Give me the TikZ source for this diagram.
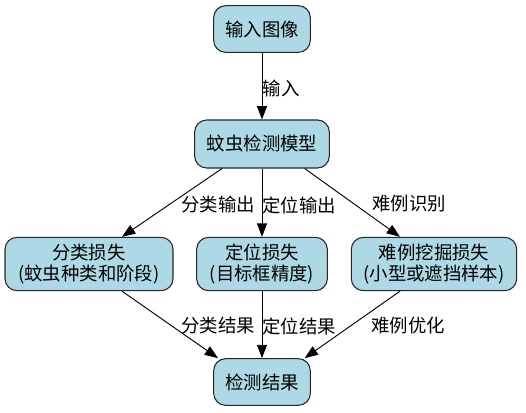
\documentclass[tikz,border=0pt]{standalone}
\usepackage{fontspec}
\setmainfont{Noto Sans CJK SC}
\usetikzlibrary{arrows.meta}
\begin{document}
\begin{tikzpicture}[x=0.75pt,y=-0.75pt,
  box/.style={draw=black!85,line width=0.8pt,fill=lightblue,rounded corners=9pt,align=center,inner sep=1pt,font=\fontsize{13.8pt}{15.8pt}\selectfont},
  lbl/.style={font=\fontsize{13.8pt}{15.8pt}\selectfont,inner sep=1pt},
  arr/.style={line width=0.7pt,-{Triangle[length=10pt,width=7.5pt]}}]
\definecolor{lightblue}{HTML}{ADD8E6}
\useasboundingbox (0,0) rectangle (526,412);
\node[box,minimum width=72.5pt,minimum height=35pt] (in) at (262,29) {输入图像};
\node[box,minimum width=101pt,minimum height=36pt] (m) at (262,144) {蚊虫检测模型};
\node[box,minimum width=126pt,minimum height=40pt] (c) at (89,264) {分类损失\\(蚊虫种类和阶段)};
\node[box,minimum width=98pt,minimum height=40pt] (l) at (262,264) {定位损失\\(目标框精度)};
\node[box,minimum width=124pt,minimum height=40pt] (h) at (434,264) {难例挖掘损失\\(小型或遮挡样本)};
\node[box,minimum width=72.5pt,minimum height=35pt] (r) at (262,382) {检测结果};
\draw[arr] (in) -- (m);
\draw[arr] ([xshift=-30pt]m.south) -- ([xshift=24.75pt]c.north);
\draw[arr] (m) -- (l);
\draw[arr] ([xshift=32pt]m.south) -- ([xshift=-25.5pt]h.north);
\draw[arr] ([xshift=24.75pt]c.south) -- ([xshift=-33pt]r.north);
\draw[arr] (l) -- (r);
\draw[arr] ([xshift=-25.5pt]h.south) -- ([xshift=32pt]r.north);
\node[lbl] (t1) at (281,88) {输入};
\node[lbl] (t2) at (218,205) {分类输出};
\node[lbl] (t3) at (299,205) {定位输出};
\node[lbl] (t4) at (409,204) {难例识别};
\node[lbl] (t5) at (218,326) {分类结果};
\node[lbl] (t6) at (299,326) {定位结果};
\node[lbl] (t7) at (408,326) {难例优化};
\end{tikzpicture}
\end{document}
